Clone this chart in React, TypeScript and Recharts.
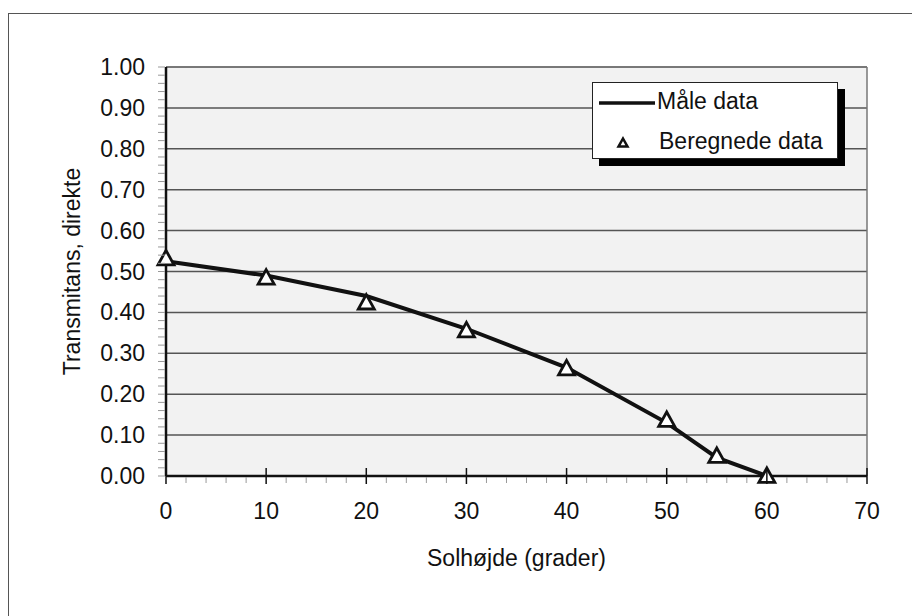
import {
  CartesianGrid,
  ComposedChart,
  Label,
  Legend,
  Line,
  ReferenceLine,
  XAxis,
  YAxis,
} from 'recharts'

const FONT = '"Liberation Sans", Arial, sans-serif'

// solhøjde i grader
const solhojde = [0, 10, 20, 30, 40, 50, 55, 60]
const maaleData = [0.525, 0.49, 0.44, 0.36, 0.265, 0.13, 0.045, 0.0]
const beregnedeData = [0.532, 0.485, 0.424, 0.356, 0.263, 0.137, 0.049, 0.0]

const xTicks = [0, 10, 20, 30, 40, 50, 60, 70]
const yTicks = [0, 0.1, 0.2, 0.3, 0.4, 0.5, 0.6, 0.7, 0.8, 0.9, 1.0]
// small tick marks between the labelled ones
const xMinorTicks = Array.from({ length: 36 }, (_, i) => i * 2)
const yMinorTicks = Array.from({ length: 51 }, (_, i) => Math.round(i * 2) / 100)

const chartData = solhojde.map((x, i) => ({
  x,
  maale: maaleData[i],
  beregnet: beregnedeData[i],
}))

function isMajorX(v: number) {
  return xTicks.includes(v)
}

function isMajorY(v: number) {
  return yTicks.some((t) => Math.abs(t - v) < 1e-6)
}

function XTick({ x, y, payload }: any) {
  const v = payload.value as number
  const major = isMajorX(v)
  return (
    <g>
      {major ? (
        <line x1={x} x2={x} y1={y - 8} y2={y + 8} stroke="#111" strokeWidth={1.5} />
      ) : (
        <line x1={x} x2={x} y1={y + 1} y2={y + 7} stroke="#999" strokeWidth={1} />
      )}
      {major && (
        <text x={x} y={y + 43} textAnchor="middle" fontFamily={FONT} fontSize={23} fill="#111">
          {v}
        </text>
      )}
    </g>
  )
}

function YTick({ x, y, payload }: any) {
  const v = payload.value as number
  return (
    <g>
      <line x1={x - 8} x2={x - 1} y1={y} y2={y} stroke="#999" strokeWidth={1} />
      {isMajorY(v) && (
        <text x={x - 21} y={y + 8} textAnchor="end" fontFamily={FONT} fontSize={23} fill="#111">
          {v.toFixed(2)}
        </text>
      )}
    </g>
  )
}

function TriangleDot({ cx, cy, r = 8, sw = 2.8 }: any) {
  if (cx == null || cy == null) return null
  return (
    <path
      d={`M${cx},${cy - r} L${cx + r},${cy + r * 0.8} L${cx - r},${cy + r * 0.8} Z`}
      fill="#fff"
      stroke="#111"
      strokeWidth={sw}
      strokeLinejoin="miter"
    />
  )
}

function LegendBox() {
  return (
    <div
      style={{
        width: 246,
        height: 77,
        boxSizing: 'border-box',
        background: '#fff',
        border: '1.5px solid #222',
        boxShadow: '7px 7px 0 #000',
      }}
    >
      <svg width={243} height={74} style={{ display: 'block' }}>
        <line x1={6} x2={62} y1={20} y2={20} stroke="#111" strokeWidth={3.5} />
        <text x={64} y={26} fontFamily={FONT} fontSize={23} fill="#111">
          Måle data
        </text>
        <TriangleDot cx={30} cy={60} r={4.5} sw={2.5} />
        <text x={66} y={66} fontFamily={FONT} fontSize={23} fill="#111">
          Beregnede data
        </text>
      </svg>
    </div>
  )
}

export default function App() {
  return (
    <div style={{ position: 'absolute', left: 0, top: 0, width: 912, height: 616, background: '#fff' }}>
      <div
        style={{
          position: 'absolute',
          left: 8,
          top: 13,
          width: 910,
          height: 610,
          borderTop: '1.5px solid #555',
          borderLeft: '1.5px solid #555',
        }}
      />
      <div style={{ position: 'absolute', left: 0, top: 0 }}>
        <ComposedChart
          width={912}
          height={616}
          data={chartData}
          margin={{ top: 67, right: 45, bottom: 0, left: 0 }}
        >
          <CartesianGrid
            vertical={false}
            horizontalValues={yTicks}
            stroke="#555"
            strokeWidth={1.5}
            fill="#f2f2f2"
          />
          <XAxis
            type="number"
            dataKey="x"
            domain={[0, 70]}
            ticks={xMinorTicks}
            interval={0}
            tickLine={false}
            tickSize={0}
            tickMargin={0}
            tick={<XTick />}
            axisLine={{ stroke: '#111', strokeWidth: 2.5 }}
            height={140}
          >
            <Label
              content={({ viewBox }: any) => (
                <text
                  x={viewBox.x + viewBox.width / 2}
                  y={viewBox.y + 90}
                  textAnchor="middle"
                  fontFamily={FONT}
                  fontSize={23}
                  fill="#111"
                >
                  Solhøjde (grader)
                </text>
              )}
            />
          </XAxis>
          <YAxis
            type="number"
            domain={[0, 1]}
            ticks={yMinorTicks}
            interval={0}
            tickLine={false}
            tickSize={0}
            tickMargin={0}
            tick={<YTick />}
            axisLine={{ stroke: '#111', strokeWidth: 2.5 }}
            width={166}
          >
            <Label
              content={({ viewBox }: any) => {
                const cx = 80
                const cy = viewBox.y + viewBox.height / 2
                return (
                  <text
                    x={cx}
                    y={cy}
                    transform={`rotate(-90 ${cx} ${cy})`}
                    textAnchor="middle"
                    fontFamily={FONT}
                    fontSize={23}
                    fill="#111"
                  >
                    Transmitans, direkte
                  </text>
                )
              }}
            />
          </YAxis>
          <ReferenceLine y={1} stroke="#777" strokeWidth={1.5} />
          <ReferenceLine x={70} stroke="#777" strokeWidth={1.5} />
          <Line
            dataKey="maale"
            name="Måle data"
            type="linear"
            stroke="#111"
            strokeWidth={4}
            dot={false}
            activeDot={false}
            isAnimationActive={false}
          />
          <Line
            dataKey="beregnet"
            name="Beregnede data"
            stroke="none"
            dot={(p: any) => <TriangleDot key={p.index} cx={p.cx} cy={p.cy} />}
            activeDot={false}
            isAnimationActive={false}
          />
          <Legend
            layout="horizontal"
            verticalAlign="middle"
            align="center"
            wrapperStyle={{ left: 592, top: 82, width: 246, height: 77 }}
            content={() => <LegendBox />}
          />
        </ComposedChart>
      </div>
    </div>
  )
}
